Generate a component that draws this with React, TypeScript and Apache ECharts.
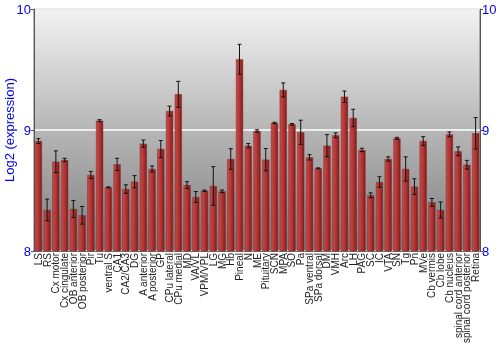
import React, { useEffect, useRef } from "react";
import * as echarts from "echarts";

const categories = [
  "LS", "RS", "Cx motor", "Cx cingulate", "OB anterior", "OB posterior", "Pir", "Tu",
  "ventral S", "CA1", "CA2/CA3", "DG", "A anterior", "A posterior", "GP", "CPu lateral",
  "CPu medial", "MD", "VA/VL", "VPM/VPL", "LG", "MG", "Hb", "Pineal", "N", "ME",
  "Pituitary", "SCN", "MPA", "SO", "Pa", "SPa ventral", "SPa dorsal", "DM", "VMH", "Arc",
  "LH", "PAG", "SC", "IC", "VTA", "SN", "Tg", "Pn", "MVe", "Cb vermis", "Cb lobe",
  "Cb nucleus", "spinal cord anterior", "spinal cord posterior", "Retina",
];

const values = [
  8.909, 8.339, 8.738, 8.752, 8.347, 8.295, 8.628, 9.077,
  8.526, 8.716, 8.512, 8.573, 8.887, 8.678, 8.843, 9.157,
  9.295, 8.545, 8.446, 8.498, 8.537, 8.493, 8.760, 9.584, 8.870, 8.992,
  8.755, 9.058, 9.331, 9.047, 8.981, 8.774, 8.683, 8.870, 8.956, 9.275,
  9.099, 8.835, 8.460, 8.570, 8.760, 8.931, 8.678, 8.532, 8.909, 8.402, 8.339,
  8.964, 8.824, 8.713, 8.973,
];

const errors = [
  0.02, 0.09, 0.09, 0.014, 0.07, 0.073, 0.03, 0.008,
  0.004, 0.05, 0.035, 0.05, 0.03, 0.025, 0.07, 0.04,
  0.107, 0.028, 0.045, 0.006, 0.16, 0.011, 0.085, 0.124, 0.018, 0.01,
  0.092, 0.006, 0.058, 0.006, 0.1, 0.022, 0.004, 0.092, 0.02, 0.047,
  0.072, 0.014, 0.02, 0.044, 0.018, 0.008, 0.1, 0.065, 0.036, 0.032, 0.066,
  0.02, 0.036, 0.036, 0.13,
];

const yTicks = [8, 9, 10];

export default function App() {
  const ref = useRef<HTMLDivElement>(null);
  useEffect(() => {
    if (!ref.current) return;
    const chart = echarts.init(ref.current, undefined, { renderer: "svg" });
    const errData = values.map((v, i) => [i, v - errors[i], v + errors[i]]);
    const font = "Liberation Sans, Arial, sans-serif";
    const axisLabelStyle = { color: "#0000ee", fontSize: 13, fontFamily: font };
    chart.setOption({
      animation: false,
      grid: {
        left: 34,
        right: 20,
        top: 9,
        bottom: 99,
        containLabel: false,
        outerBoundsMode: "none",
        show: true,
        borderColor: "#6e6e6e",
        borderWidth: 1,
        backgroundColor: new echarts.graphic.LinearGradient(0, 0, 0, 1, [
          { offset: 0, color: "#f2f2f2" },
          { offset: 0.5, color: "#b6b6b6" },
          { offset: 1, color: "#7e7e7e" },
        ]),
      },
      xAxis: {
        type: "category",
        data: categories,
        axisLine: { show: true, lineStyle: { color: "#6e6e6e" } },
        axisTick: { show: false },
        axisLabel: {
          rotate: 90,
          interval: 0,
          margin: 2,
          fontSize: 10,
          color: "#222",
          fontFamily: font,
        },
      },
      yAxis: [
        {
          type: "value",
          min: yTicks[0],
          max: yTicks[yTicks.length - 1],
          interval: 1,
          position: "left",
          name: "Log2 (expression)",
          nameLocation: "middle",
          nameGap: 18,
          nameMoveOverlap: false,
          nameTextStyle: { color: "#0000ee", fontSize: 13, fontFamily: font },
          axisLine: { show: true, lineStyle: { color: "#555" } },
          axisTick: { show: true, length: 3, lineStyle: { color: "#555" } },
          axisLabel: { ...axisLabelStyle, margin: 3 },
          splitLine: { show: true, lineStyle: { color: "#ffffff", width: 1.5 } },
        },
        {
          type: "value",
          min: yTicks[0],
          max: yTicks[yTicks.length - 1],
          interval: 1,
          position: "right",
          axisLine: { show: true, lineStyle: { color: "#555" } },
          axisTick: { show: true, length: 3, lineStyle: { color: "#555" } },
          axisLabel: { ...axisLabelStyle, margin: 2 },
          splitLine: { show: false },
        },
      ],
      series: [
        {
          type: "bar",
          data: values,
          barCategoryGap: "18%",
          itemStyle: {
            color: new echarts.graphic.LinearGradient(0, 0, 1, 0, [
              { offset: 0, color: "#c44a4a" },
              { offset: 0.5, color: "#b33636" },
              { offset: 1, color: "#7e1c1c" },
            ]),
            borderColor: "#8a2a2a",
            borderWidth: 0.5,
          },
        },
        {
          type: "custom",
          data: errData,
          z: 10,
          renderItem: (params: any, api: any) => {
            const x = api.value(0);
            const lo = api.coord([x, api.value(1)]);
            const hi = api.coord([x, api.value(2)]);
            const cap = 2;
            const style = { stroke: "#111", lineWidth: 1 };
            return {
              type: "group",
              children: [
                { type: "line", shape: { x1: lo[0], y1: lo[1], x2: hi[0], y2: hi[1] }, style },
                { type: "line", shape: { x1: lo[0] - cap, y1: lo[1], x2: lo[0] + cap, y2: lo[1] }, style },
                { type: "line", shape: { x1: hi[0] - cap, y1: hi[1], x2: hi[0] + cap, y2: hi[1] }, style },
              ],
            };
          },
        },
      ],
    });
    return () => chart.dispose();
  }, []);
  return (
    <div
      ref={ref}
      style={{ position: "fixed", left: 0, top: 0, width: 500, height: 350 }}
    />
  );
}
